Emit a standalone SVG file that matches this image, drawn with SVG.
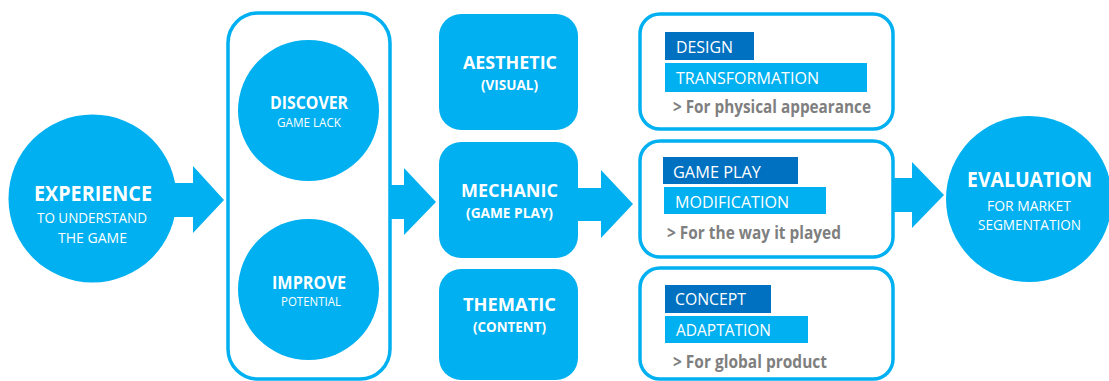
<svg xmlns="http://www.w3.org/2000/svg" width="1109" height="381" viewBox="0 0 1109 381">
<style>
.fill{fill:#00B0F0}
.outline{fill:#fff;stroke:#00B0F0;stroke-width:3.5}
.dark{fill:#0070C0}
.t{font-family:"Open Sans","Liberation Sans",sans-serif;fill:#fff;text-anchor:middle}
.b{font-weight:bold}
.bar{font-family:"Open Sans","Liberation Sans",sans-serif;fill:#fff;font-size:17px}
.g{font-family:"Open Sans","Liberation Sans",sans-serif;fill:#7F7F7F;font-weight:bold;font-size:17px}
</style>
<rect width="1109" height="381" fill="#fff"/>
<g id="connectors">
<polygon class="fill" points="170,183 193,183 193,166 224,200 193,233 193,217 170,217"/>
<polygon class="fill" points="391,185 404,185 404,168 436,202 404,235 404,219 391,219"/>
<polygon class="fill" points="576,188 601,188 601,170 633,204 601,238 601,221 576,221"/>
<polygon class="fill" points="894,178 912,178 912,162 944,195 912,228 912,212 894,212"/>
</g>
<g id="experience">
<circle class="fill" cx="92.5" cy="198.5" r="84"/>
<text class="t b" x="93" y="200.5" font-size="21" textLength="118" lengthAdjust="spacingAndGlyphs">EXPERIENCE</text>
<text class="t" x="92" y="223" font-size="14" textLength="110" lengthAdjust="spacingAndGlyphs">TO UNDERSTAND</text>
<text class="t" x="92.5" y="243" font-size="14" textLength="69" lengthAdjust="spacingAndGlyphs">THE GAME</text>
</g>
<g id="group-box">
<rect class="outline" x="228" y="13" width="162" height="366" rx="30"/>
</g>
<g id="discover">
<circle class="fill" cx="308.5" cy="110.5" r="70.5"/>
<text class="t b" x="309" y="109" font-size="17" textLength="78" lengthAdjust="spacingAndGlyphs">DISCOVER</text>
<text class="t" x="309" y="127" font-size="12" textLength="64" lengthAdjust="spacingAndGlyphs">GAME LACK</text>
</g>
<g id="improve">
<circle class="fill" cx="308.5" cy="289.5" r="70.5"/>
<text class="t b" x="309" y="289" font-size="17" textLength="74" lengthAdjust="spacingAndGlyphs">IMPROVE</text>
<text class="t" x="311" y="306" font-size="12" textLength="60" lengthAdjust="spacingAndGlyphs">POTENTIAL</text>
</g>
<g id="aesthetic">
<rect class="fill" x="439" y="14" width="139" height="116" rx="22"/>
<text class="t b" x="510" y="68.5" font-size="18" textLength="94" lengthAdjust="spacingAndGlyphs">AESTHETIC</text>
<text class="t b" x="509.5" y="90" font-size="14" textLength="57" lengthAdjust="spacingAndGlyphs">(VISUAL)</text>
</g>
<g id="mechanic">
<rect class="fill" x="439" y="142" width="139" height="116" rx="22"/>
<text class="t b" x="509.5" y="196.5" font-size="18" textLength="97" lengthAdjust="spacingAndGlyphs">MECHANIC</text>
<text class="t b" x="509.5" y="218" font-size="14" textLength="87" lengthAdjust="spacingAndGlyphs">(GAME PLAY)</text>
</g>
<g id="thematic">
<rect class="fill" x="439" y="269" width="139" height="111" rx="22"/>
<text class="t b" x="509.5" y="310.5" font-size="18" textLength="93" lengthAdjust="spacingAndGlyphs">THEMATIC</text>
<text class="t b" x="509.5" y="332" font-size="14" textLength="73" lengthAdjust="spacingAndGlyphs">(CONTENT)</text>
</g>
<g id="design-box">
<rect class="outline" x="640" y="14" width="253" height="115" rx="20"/>
<rect class="dark" x="665" y="32" width="89" height="28"/>
<rect class="fill" x="665" y="63" width="202" height="29"/>
<text class="bar" x="676" y="53" textLength="57" lengthAdjust="spacingAndGlyphs">DESIGN</text>
<text class="bar" x="676" y="84" textLength="143" lengthAdjust="spacingAndGlyphs">TRANSFORMATION</text>
<text class="g" x="673" y="113" textLength="198" lengthAdjust="spacingAndGlyphs">&gt; For physical appearance</text>
</g>
<g id="gameplay-box">
<rect class="outline" x="640" y="141" width="253" height="116" rx="20"/>
<rect class="dark" x="663" y="157" width="135" height="27"/>
<rect class="fill" x="664" y="187" width="162" height="27"/>
<text class="bar" x="673" y="178" textLength="88" lengthAdjust="spacingAndGlyphs">GAME PLAY</text>
<text class="bar" x="675" y="208" textLength="114" lengthAdjust="spacingAndGlyphs">MODIFICATION</text>
<text class="g" x="667" y="239" textLength="174" lengthAdjust="spacingAndGlyphs">&gt; For the way it played</text>
</g>
<g id="concept-box">
<rect class="outline" x="640" y="268" width="253" height="111" rx="20"/>
<rect class="dark" x="665" y="285" width="106" height="28"/>
<rect class="fill" x="665" y="316" width="143" height="27"/>
<text class="bar" x="675" y="305" textLength="71" lengthAdjust="spacingAndGlyphs">CONCEPT</text>
<text class="bar" x="676" y="336" textLength="95" lengthAdjust="spacingAndGlyphs">ADAPTATION</text>
<text class="g" x="673" y="368" textLength="154" lengthAdjust="spacingAndGlyphs">&gt; For global product</text>
</g>
<g id="evaluation">
<circle class="fill" cx="1029" cy="199" r="83"/>
<text class="t b" x="1029.5" y="186.5" font-size="21" textLength="125" lengthAdjust="spacingAndGlyphs">EVALUATION</text>
<text class="t" x="1029" y="211" font-size="14" textLength="84" lengthAdjust="spacingAndGlyphs">FOR MARKET</text>
<text class="t" x="1029.5" y="230" font-size="14" textLength="103" lengthAdjust="spacingAndGlyphs">SEGMENTATION</text>
</g>
</svg>
